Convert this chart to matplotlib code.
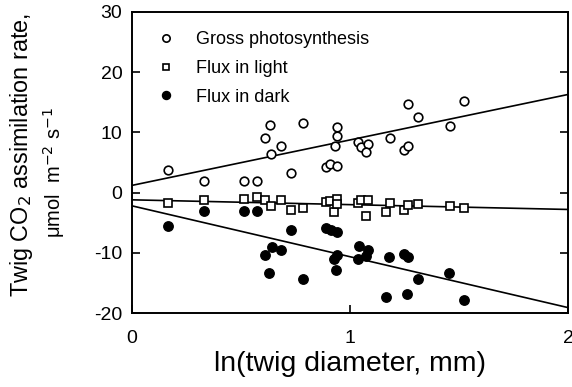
import matplotlib
matplotlib.use('Agg')
import numpy as np
import matplotlib.pyplot as plt

# ln(twig diameter) and rates
gross_x = [0.167, 0.332, 0.512, 0.573, 0.610, 0.632, 0.638, 0.685, 0.728, 0.783,
           0.890, 0.910, 0.940, 0.930, 0.939, 0.939, 1.038, 1.049, 1.084, 1.073,
           1.183, 1.246, 1.268, 1.266, 1.310, 1.459, 1.521]
gross_y = [3.8, 1.9, 1.9, 1.9, 9.1, 11.3, 6.4, 7.8, 3.2, 11.6,
           4.2, 4.8, 4.4, 7.7, 9.4, 10.9, 8.4, 7.5, 8.1, 6.8,
           9.1, 7.1, 7.7, 14.8, 12.6, 11.1, 15.2]

light_x = [0.167, 0.332, 0.512, 0.573, 0.612, 0.638, 0.685, 0.731, 0.783, 0.888,
           0.908, 0.940, 0.928, 0.940, 1.038, 1.049, 1.084, 1.073, 1.165, 1.183,
           1.246, 1.268, 1.310, 1.459, 1.521]
light_y = [-1.7, -1.3, -1.0, -0.7, -1.3, -2.3, -1.3, -2.9, -2.6, -1.6,
           -1.4, -1.0, -3.2, -1.9, -1.7, -1.3, -1.3, -3.9, -3.2, -1.7,
           -2.9, -2.1, -1.9, -2.3, -2.6]

dark_x = [0.167, 0.332, 0.512, 0.573, 0.610, 0.641, 0.683, 0.628, 0.728, 0.783,
          0.890, 0.911, 0.939, 0.927, 0.939, 0.936, 1.043, 1.084, 1.073, 1.035,
          1.180, 1.246, 1.268, 1.310, 1.164, 1.263, 1.456, 1.521]
dark_y = [-5.6, -3.1, -3.1, -3.1, -10.4, -9.1, -9.5, -13.4, -6.2, -14.3,
          -5.8, -6.2, -6.5, -11.0, -10.4, -12.9, -8.8, -9.5, -10.6, -11.1,
          -10.7, -10.2, -10.7, -14.3, -17.3, -16.9, -13.4, -17.9]

# regression lines (intercept, slope) as drawn
fit_gross = (1.2, 7.55)
fit_light = (-1.2, -0.8)
fit_dark = (-2.2, -8.45)

labels = ['Gross photosynthesis', 'Flux in light', 'Flux in dark']

plt.rcParams['font.family'] = ['Liberation Sans', 'DejaVu Sans']
plt.rcParams['axes.unicode_minus'] = False

fig = plt.figure(figsize=(5.72, 3.87), dpi=100)
ax = fig.add_axes([0.2308, 0.1912, 0.7622, 0.7778])

ax.plot(gross_x, gross_y, 'o', mfc='white', mec='black', mew=1.2, ms=6.2,
        ls='none', label=labels[0], zorder=3)
ax.plot(light_x, light_y, 's', mfc='white', mec='black', mew=1.2, ms=5.8,
        ls='none', label=labels[1], zorder=3)
ax.plot(dark_x, dark_y, 'o', mfc='black', mec='black', ms=6.8,
        ls='none', label=labels[2], zorder=3)

xl = np.array([0, 2])
for b0, b1 in (fit_gross, fit_light, fit_dark):
    ax.plot(xl, b0 + b1 * xl, color='black', lw=1.2, zorder=2)

ax.set_xlim(0, 2)
ax.set_ylim(-20, 30)
ax.set_xticks([0, 1, 2])
ax.set_yticks([-20, -10, 0, 10, 20, 30])
ax.tick_params(direction='in', length=6, width=1.2, labelsize=14,
               right=True, top=False)
ax.tick_params(axis='x', pad=12)
ax.tick_params(axis='y', pad=7)
for s in ax.spines.values():
    s.set_linewidth(1.4)

ax.set_xlabel('ln(twig diameter, mm)', fontsize=20.5, labelpad=3)

fig.text(0.037, 0.60, 'Twig CO$_2$ assimilation rate,', rotation=90,
         fontsize=16.8, ha='center', va='center')
fig.text(0.095, 0.555, '\u03bcmol  m$^{-2}$ s$^{-1}$', rotation=90,
         fontsize=14.5, ha='center', va='center')

leg = ax.legend(loc='upper left', bbox_to_anchor=(0.04, 0.96), frameon=False,
                fontsize=13, handletextpad=1.2, labelspacing=0.65,
                handlelength=1.0, borderaxespad=0, markerscale=0.85)

fig.savefig('out.png', dpi=100)
